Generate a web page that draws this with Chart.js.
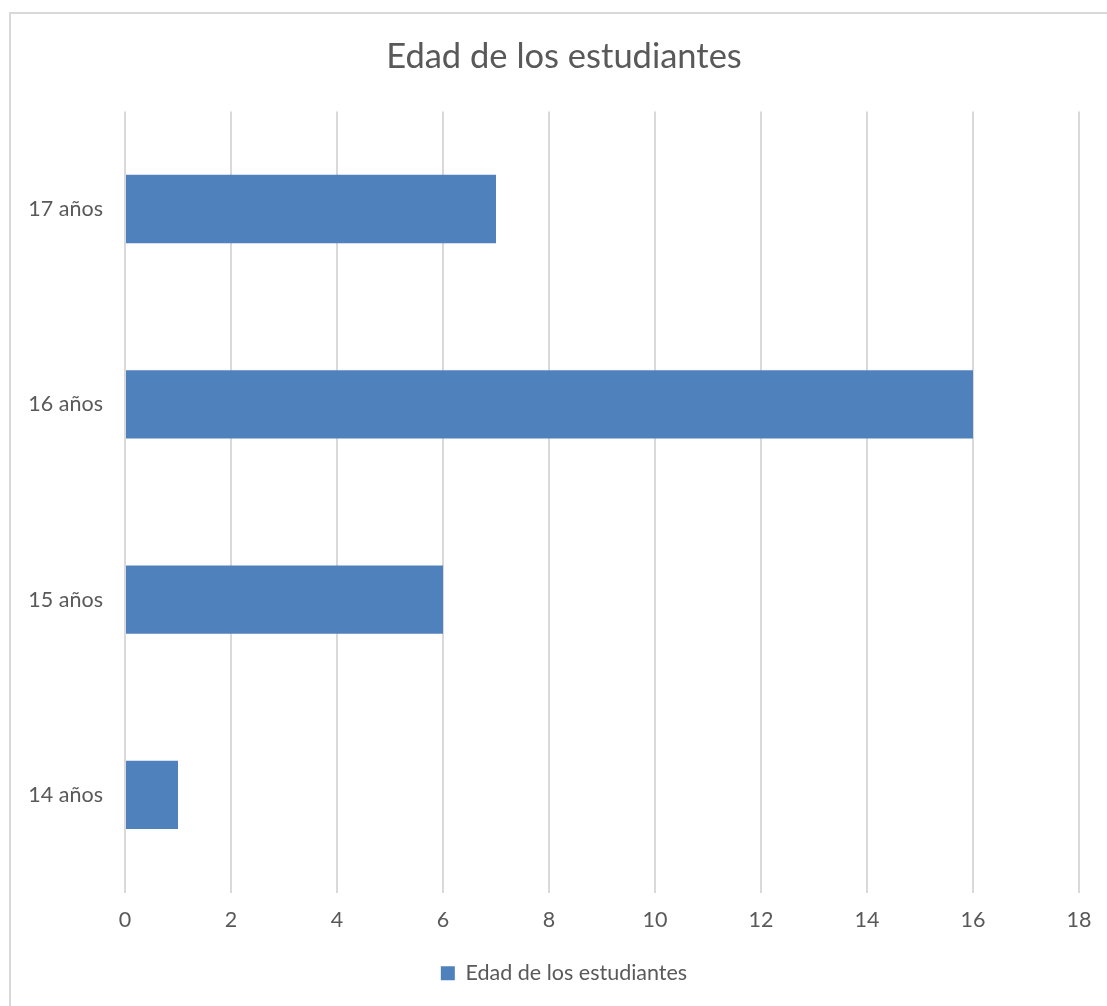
<!DOCTYPE html>
<html>
<head>
<meta charset="utf-8">
<script src="https://cdn.jsdelivr.net/npm/chart.js@4/dist/chart.umd.min.js"></script>
<style>
  html, body { margin: 0; padding: 0; background: #fff; overflow: hidden; width: 1107px; height: 1006px; }
  #frame { position: absolute; left: 9px; top: 12px; width: 1110px; height: 1010px; border: 2px solid #d9d9d9; box-sizing: border-box; }
  /* el grafico original sigue mas alla del borde derecho de la imagen */
  #wrap { position: absolute; left: 0; top: 0; width: 1128px; height: 1006px; }
</style>
</head>
<body>
<div id="frame"></div>
<div id="wrap"><canvas id="c"></canvas></div>
<script>
// datos
const categorias = ['17 años', '16 años', '15 años', '14 años'];
const valores = [7, 16, 6, 1];
const serie = 'Edad de los estudiantes';
const titulo = 'Edad de los estudiantes';

const gris = '#595959';
const fuente = 'Lato, "Open Sans", sans-serif';

// el padding izquierdo centra titulo y leyenda en el marco; se deja que las
// etiquetas del eje y usen ese espacio (si no, se recortan)
const ensancharEjeY = {
    id: 'ensancharEjeY',
    afterLayout(chart) {
        chart.scales.y.left = 0;
    }
};

new Chart(document.getElementById('c'), {
    type: 'bar',
    data: {
        labels: categorias,
        datasets: [{
            label: serie,
            data: valores,
            backgroundColor: '#4f81bd',
            borderWidth: 0,
            categoryPercentage: 0.35,
            barPercentage: 1
        }]
    },
    options: {
        indexAxis: 'y',
        responsive: true,
        maintainAspectRatio: false,
        animation: false,
        layout: { padding: { left: 49, right: 49, top: 0, bottom: 12 } },
        plugins: {
            title: {
                display: true,
                text: titulo,
                color: gris,
                font: { family: fuente, size: 34.5, weight: 'normal' },
                padding: { top: 36, bottom: 34 }
            },
            legend: {
                position: 'bottom',
                labels: {
                    color: gris,
                    font: { family: fuente, size: 21.5 },
                    boxWidth: 14,
                    boxHeight: 14,
                    padding: 10
                }
            },
            tooltip: { enabled: false }
        },
        scales: {
            x: {
                min: 0,
                max: 18,
                ticks: { stepSize: 2, color: gris, font: { family: fuente, size: 21.5 }, padding: 15 },
                grid: { color: '#d9d9d9', lineWidth: 2, drawTicks: false },
                border: { display: false },
                afterFit: function (scale) { scale.height = 60; }
            },
            y: {
                ticks: { color: gris, font: { family: fuente, size: 21.5 }, padding: 22 },
                grid: { display: false, drawTicks: false },
                border: { display: false },
                afterFit: function (scale) { scale.width = 76; }
            }
        }
    },
    plugins: [ensancharEjeY]
});
</script>
</body>
</html>
